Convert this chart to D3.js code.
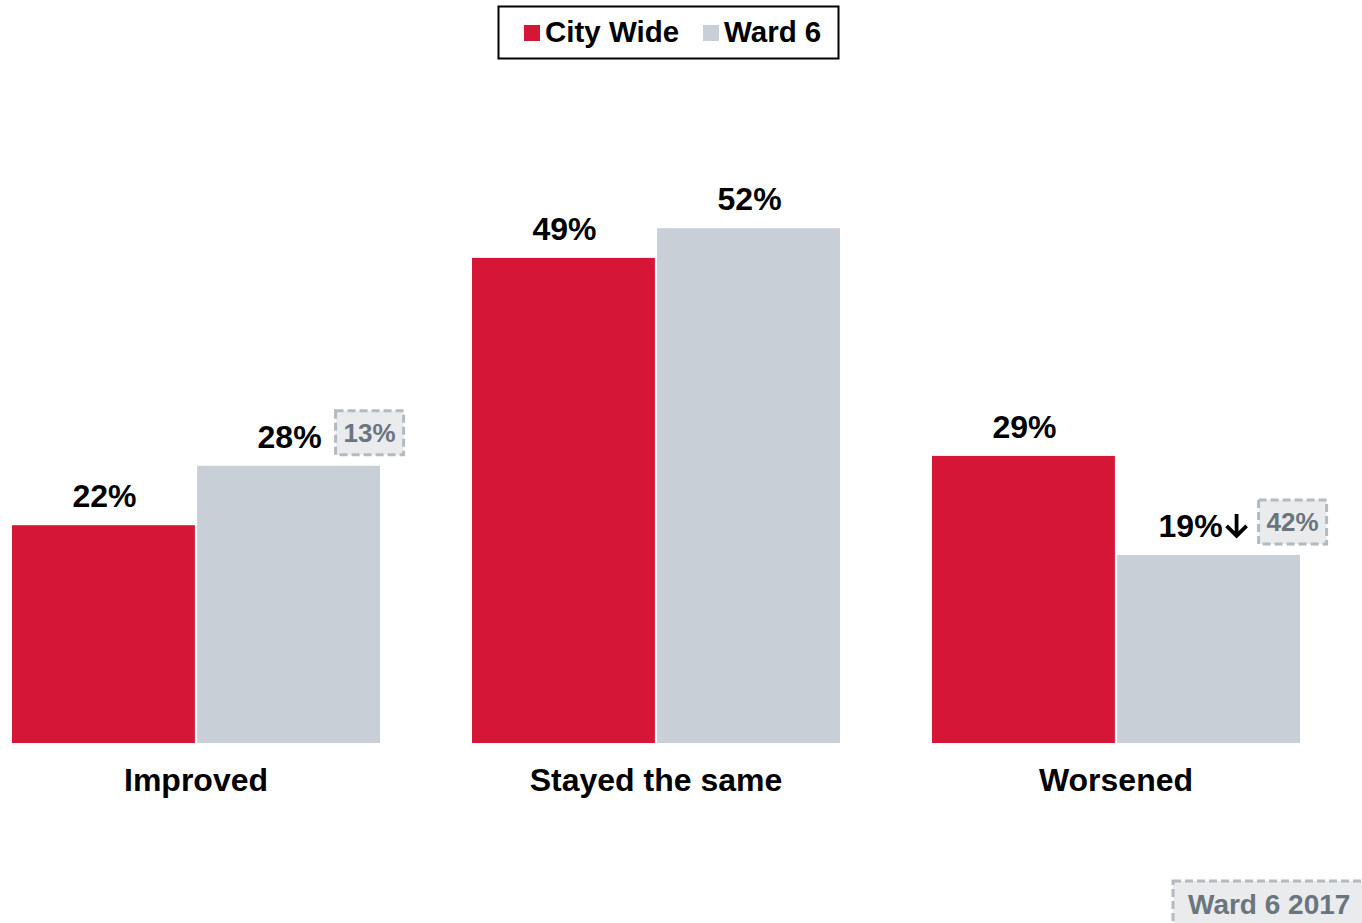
<!DOCTYPE html>
<html>
<head>
<meta charset="utf-8">
<script src="https://cdn.jsdelivr.net/npm/d3@7"></script>
<style>
  html, body { margin: 0; padding: 0; background: #ffffff; }
  svg text { font-family: "Liberation Sans", Arial, sans-serif; font-weight: bold; }
</style>
</head>
<body>
<svg id="chart" width="1362" height="923"></svg>
<script>
// Survey categories and the two series compared in each
const categories = ["Improved", "Stayed the same", "Worsened"];
const seriesNames = ["City Wide", "Ward 6"];
const cityWide = [22, 49, 29];
const ward6 = [28, 52, 19];
// Ward 6 result from 2017, shown next to the current Ward 6 value
const ward6Prior = [13, null, 42];
// Significant change markers for Ward 6 (down arrow)
const ward6Change = [null, null, "down"];
const footnote = "Ward 6 2017";

const colors = { "City Wide": "#d51636", "Ward 6": "#c8cfd6" };

const svg = d3.select("#chart");
const baseY = 743;

const x0 = d3.scaleBand().domain(categories).range([12, 1300]).paddingInner(0.2).paddingOuter(0);
const x1 = d3.scaleBand().domain(seriesNames).range([0, x0.bandwidth()]).paddingInner(0.012);
const y = d3.scaleLinear().domain([0, 60]).range([baseY, baseY - 594]);

const rows = categories.map((c, i) => ({
  category: c,
  values: [
    { series: "City Wide", value: cityWide[i] },
    { series: "Ward 6", value: ward6[i], prior: ward6Prior[i], change: ward6Change[i] }
  ]
}));

const groups = svg.append("g").selectAll("g").data(rows).join("g")
  .attr("transform", d => `translate(${x0(d.category)},0)`);

groups.selectAll("rect").data(d => d.values).join("rect")
  .attr("x", d => x1(d.series))
  .attr("y", d => y(d.value))
  .attr("width", x1.bandwidth())
  .attr("height", d => y(0) - y(d.value))
  .attr("fill", d => colors[d.series]);

// Dashed box used for 2017 comparison values
function dashedBox(g, x, yTop, w, h) {
  g.append("rect")
    .attr("x", x).attr("y", yTop).attr("width", w).attr("height", h)
    .attr("fill", "#e9ebed")
    .attr("stroke", "#b4bac0")
    .attr("stroke-width", 3)
    .attr("stroke-dasharray", "8,4");
}

// Value labels above each bar
groups.each(function(row) {
  const g = d3.select(this);
  row.values.forEach(d => {
    const hasArrow = d.change === "down";
    const cx = x1(d.series) + x1.bandwidth() / 2 + (hasArrow ? -18 : 1);
    const baseline = y(d.value) - 18;
    const label = g.append("text")
      .attr("x", cx)
      .attr("y", baseline)
      .attr("text-anchor", "middle")
      .attr("font-size", 32)
      .attr("fill", "#000")
      .text(d.value + "%");
    let rightEdge = cx + label.node().getComputedTextLength() / 2;
    let gap = 14;
    if (hasArrow) {
      const ax = rightEdge + 14;
      const top = baseline - 23, bot = baseline - 1;
      g.append("path")
        .attr("d", `M${ax},${top} L${ax},${bot} M${ax - 10},${bot - 10} L${ax},${bot} L${ax + 10},${bot - 10}`)
        .attr("fill", "none")
        .attr("stroke", "#000")
        .attr("stroke-width", 3.8)
        .attr("stroke-linejoin", "miter");
      rightEdge = ax + 11;
      gap = 11;
    }
    if (d.prior != null) {
      const bx = rightEdge + gap;
      const bw = 68, bh = 44;
      const by = baseline - 37;
      dashedBox(g, bx, by, bw, bh);
      g.append("text")
        .attr("x", bx + bw / 2).attr("y", by + bh / 2 + 9)
        .attr("text-anchor", "middle")
        .attr("font-size", 26)
        .attr("fill", "#6b757e")
        .text(d.prior + "%");
    }
  });
});

// Category axis labels
svg.append("g").selectAll("text").data(categories).join("text")
  .attr("x", d => x0(d) + x0.bandwidth() / 2)
  .attr("y", 791)
  .attr("text-anchor", "middle")
  .attr("font-size", 32)
  .attr("fill", "#000")
  .text(d => d);

// Legend
const legend = svg.append("g");
legend.append("rect")
  .attr("x", 498.5).attr("y", 6.5).attr("width", 340).attr("height", 52)
  .attr("fill", "#fff").attr("stroke", "#000").attr("stroke-width", 2);
const legendX = [524, 703];
seriesNames.forEach((s, i) => {
  legend.append("rect")
    .attr("x", legendX[i]).attr("y", 25).attr("width", 16).attr("height", 16)
    .attr("fill", colors[s]);
  legend.append("text")
    .attr("x", legendX[i] + 21).attr("y", 42)
    .attr("font-size", 29.5)
    .attr("fill", "#000")
    .text(s);
});

// Footnote box
const foot = svg.append("g");
dashedBox(foot, 1173, 881, 200, 60);
foot.append("text")
  .attr("x", 1188).attr("y", 914)
  .attr("font-size", 28)
  .attr("fill", "#6b757e")
  .text(footnote);
</script>
</body>
</html>
